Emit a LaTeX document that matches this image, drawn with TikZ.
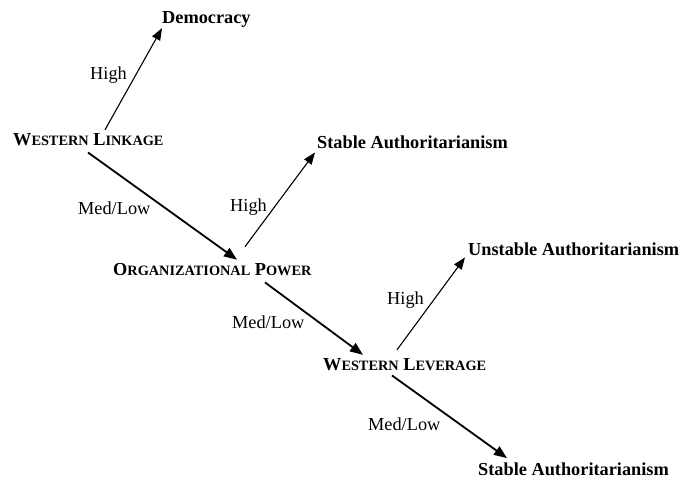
\documentclass[tikz,border=0pt]{standalone}
\usepackage{fontspec}
\setmainfont{Liberation Serif}
\usetikzlibrary{arrows.meta,positioning}

% fake small caps: big first letter, rest smaller
\newcommand{\fakesc}[2]{#1{\fontsize{14.3}{16}\selectfont #2}}

\tikzset{
  outcome/.style = {anchor = base west, inner sep = 0pt, font = \fontsize{18.3}{22}\selectfont\bfseries},
  factor/.style = {anchor = base west, inner sep = 0pt, font = \fontsize{18.3}{22}\selectfont\bfseries},
  level/.style = {anchor = base west, inner sep = 0pt, font = \fontsize{18.3}{22}\selectfont},
  highedge/.style = {line width = 1.1pt, -{Triangle[length = 12pt, width = 9pt]}},
  lowedge/.style = {line width = 1.8pt, -{Triangle[length = 13pt, width = 10pt]}}
}

\begin{document}
\begin{tikzpicture}[x = 1pt, y = -1pt]
\useasboundingbox (0,0) rectangle (683,481);

\node[outcome] (dem) at (162,24) {Democracy};
\node[factor] (link) at (13,146) {\fakesc{W}{ESTERN} \fakesc{L}{INKAGE}};
\node[outcome] (stab1) at (317,149) {Stable Authoritarianism};
\node[factor] (org) at (113,276) {\fakesc{O}{RGANIZATIONAL} \fakesc{P}{OWER}};
\node[outcome] (unst) at (468,255) {Unstable Authoritarianism};
\node[factor] (lev) at (323,370) {\fakesc{W}{ESTERN} \fakesc{L}{EVERAGE}};
\node[outcome] (stab2) at (478,475) {Stable Authoritarianism};

\node[level] (high1) at (90,80) {High};
\node[level] (low1) at (78,215) {Med/Low};
\node[level] (high2) at (230,212) {High};
\node[level] (low2) at (232,328) {Med/Low};
\node[level] (high3) at (387,305) {High};
\node[level] (low3) at (368,430) {Med/Low};

\draw[highedge] ([xshift = 92pt, yshift = 4pt]link.north west) -- (dem.south west);
\draw[lowedge] ([xshift = 75pt, yshift = -6pt]link.south west) -- ([xshift = 124pt, yshift = 4pt]org.north west);
\draw[highedge] ([xshift = 132pt, yshift = 17pt]org.north west) -- ([xshift = -2pt, yshift = -3pt]stab1.south west);
\draw[lowedge] ([xshift = 152pt, yshift = -6pt]org.south west) -- ([xshift = 40pt, yshift = 3pt]lev.north west);
\draw[highedge] ([xshift = 74pt, yshift = 8pt]lev.north west) -- ([xshift = -3pt, yshift = -2pt]unst.south west);
\draw[lowedge] ([xshift = 69pt, yshift = -5pt]lev.south west) -- ([xshift = 29pt, yshift = 4pt]stab2.north west);
\end{tikzpicture}
\end{document}
